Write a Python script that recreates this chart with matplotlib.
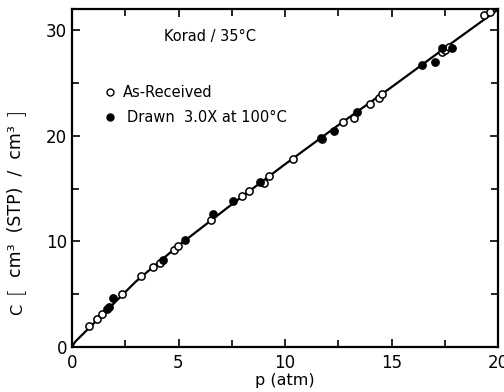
import matplotlib
matplotlib.use("Agg")
import matplotlib.pyplot as plt
from matplotlib.ticker import MultipleLocator

# As-Received (open circles)
p_open = [0.81, 1.16, 1.42, 2.33, 3.24, 3.79, 4.13, 4.80, 4.96, 6.53, 7.97, 8.31,
          9.01, 9.26, 10.36, 11.72, 12.71, 13.24, 14.01, 14.41, 14.54, 17.36, 17.51,
          17.71, 19.36, 19.62]
c_open = [2.02, 2.63, 3.11, 5.0, 6.74, 7.53, 7.95, 9.15, 9.53, 12.0, 14.25, 14.79,
          15.48, 16.17, 17.83, 19.66, 21.32, 21.7, 22.98, 23.62, 23.93, 27.9, 28.14,
          28.37, 31.43, 31.69]

# Drawn 3.0X at 100 C (filled circles)
p_fill = [1.63, 1.75, 1.94, 4.26, 5.31, 6.63, 7.54, 8.83, 11.69, 12.32, 13.40,
          16.42, 17.06, 17.36, 17.85]
c_fill = [3.58, 3.77, 4.68, 8.2, 10.09, 12.56, 13.8, 15.6, 19.82, 20.48, 22.29,
          26.69, 27.0, 28.27, 28.27]

# Fitted curve
p_curve = [0, 0.15, 0.5, 1, 2, 3, 5, 7.5, 10, 12.5, 15, 17.5, 20]
c_curve = [0, 0.5, 1.2, 2.2, 4.2, 6.2, 9.6, 13.5, 17.3, 21.0, 24.6, 28.3, 31.95]

xticks = [0, 5, 10, 15, 20]
yticks = [0, 10, 20, 30]

plt.rcParams['font.family'] = ['DejaVu Sans']

fig = plt.figure(figsize=(5.04, 3.92), dpi=100)
ax = fig.add_axes([72/504, 1-347/392, (498-72)/504, (347-9)/392])

ax.plot(p_curve, c_curve, color='black', lw=1.6, zorder=2)
ax.plot(p_open, c_open, 'o', ms=5.2, mfc='white', mec='black', mew=1.1, zorder=3)
ax.plot(p_fill, c_fill, 'o', ms=5.2, mfc='black', mec='black', mew=1.1, zorder=3)

ax.set_xlim(0, 20)
ax.set_ylim(0, 32)
ax.set_xticks(xticks)
ax.set_yticks(yticks)
ax.xaxis.set_minor_locator(MultipleLocator(2.5))
ax.yaxis.set_minor_locator(MultipleLocator(5))
ax.tick_params(which='both', direction='in', top=True, right=True, width=1.2,
               labelsize=12)
ax.tick_params(axis='x', pad=5)
ax.tick_params(which='major', length=6)
ax.tick_params(which='minor', length=5)
for s in ax.spines.values():
    s.set_linewidth(1.6)

ax.set_xlabel('p (atm)', fontsize=11.5, labelpad=1)

def ftxt(x, y, s, **kw):
    fig.text(x/504, 1-y/392, s, rotation=90, ha='center', va='center', **kw)

ftxt(18, 309, 'C', fontsize=11.5)
ftxt(15, 290, '[', fontsize=15, fontweight='light')
ftxt(16, 201, 'cm³  (STP)  /  cm³', fontsize=12.5)
ftxt(15, 112, ']', fontsize=15, fontweight='light')

ax.text(4.3, 29.4, 'Korad / 35°C', fontsize=10.5, va='center', ha='left')
ax.plot([1.78], [24.1], 'o', ms=5, mfc='white', mec='black', mew=1.0)
ax.text(2.39, 24.1, 'As-Received', fontsize=10.5, va='center', ha='left')
ax.plot([1.78], [21.75], 'o', ms=5, mfc='black', mec='black', mew=1.0)
ax.text(2.6, 21.75, 'Drawn  3.0X at 100°C', fontsize=10.5, va='center', ha='left')

fig.savefig('out.png', dpi=100)
